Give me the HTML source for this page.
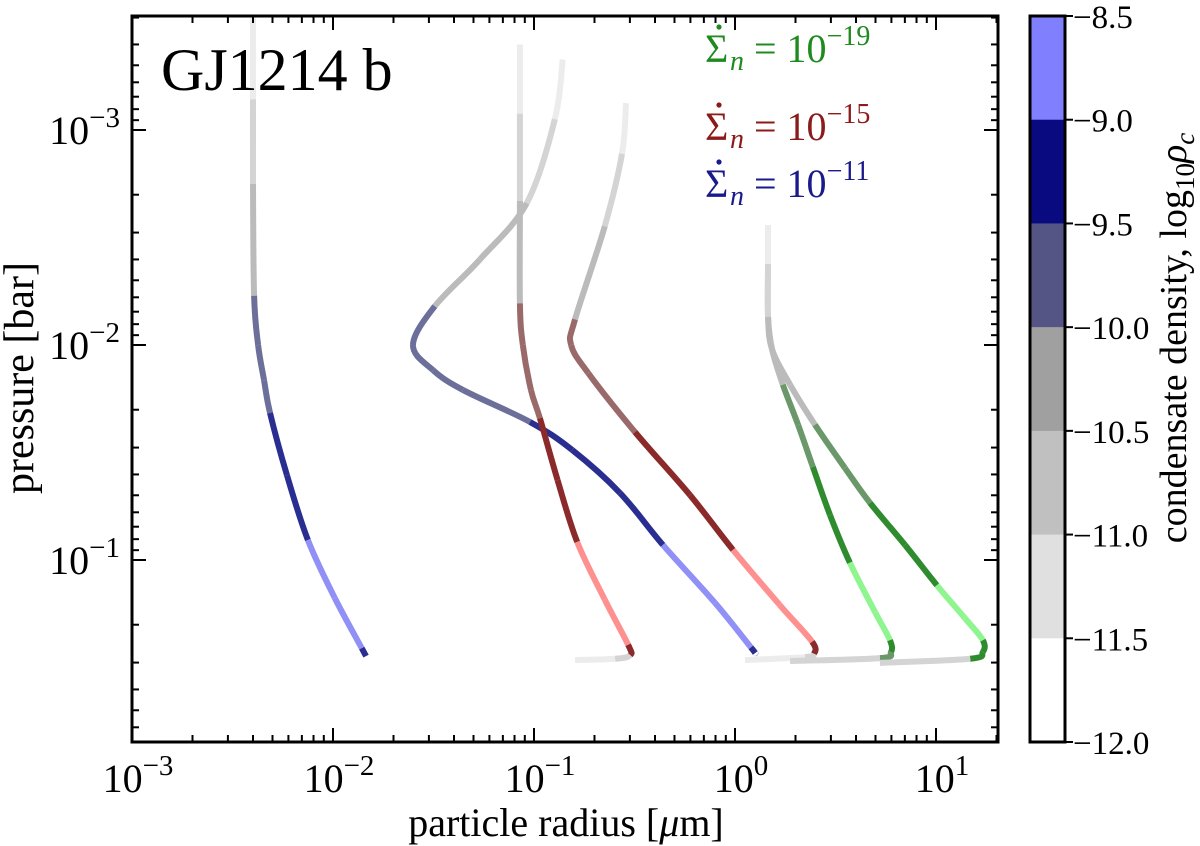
<!DOCTYPE html>
<html><head><meta charset="utf-8"><style>
body{margin:0;background:#fff}
svg{display:block;font-family:"Liberation Serif",serif}
</style></head><body>
<svg id="chart" width="1200" height="846" viewBox="0 0 1200 846"></svg>
<script>
// ---- data ----
const xTickExps=[-3,-2,-1,0,1];
const yTickExps=[-3,-2,-1];
const cbarTicks=["−8.5","−9.0","−9.5","−10.0","−10.5","−11.0","−11.5","−12.0"];
const cbarGray=["#ffffff","#e0e0e0","#c0c0c0","#a0a0a0"];
const cbarBlue=["#555585","#0a0a80","#8080ff"];
const lineGray=["#f6f6f6","#ececec","#d4d4d4","#bbbbbb"];
const speciesColors={blue:["#6b6f99","#2a2e90","#9090f6"],red:["#9a6a6a","#8a2a2a","#ff9090"],green:["#6a986a","#2e8c2e","#8ff58f"]};
// curves: radius [um], pressure [bar], density bin (0..6) of the segment starting at each point
const b1R=[0.0040,0.0040,0.0040,0.00405,0.00424,0.00454,0.00486,0.0059,0.0075,0.0102,0.0139,0.0146];
const b1P=[3.0e-4,7.2e-4,1.78e-3,5.9e-3,0.01,0.0146,0.0207,0.0403,0.0807,0.150,0.257,0.280];
const b1B=[1,2,3,4,4,4,5,5,6,6,5,5];
const b2R=[0.139,0.127,0.092,0.0538,0.0321,0.0250,0.0315,0.0444,0.0955,0.155,0.268,0.438,0.794,1.20,1.26];
const b2P=[4.7e-4,8.9e-4,2.19e-3,4.0e-3,6.6e-3,0.01,0.0131,0.0162,0.0228,0.0308,0.0488,0.0851,0.158,0.255,0.271];
const b2B=[1,2,3,3,4,4,4,4,5,5,5,6,6,5,5];
const r1R=[0.0851,0.0851,0.0851,0.0851,0.088,0.0966,0.107,0.131,0.164,0.225,0.294,0.301,0.253,0.160];
const r1P=[4.0e-4,8.4e-4,2.14e-3,6.4e-3,0.01,0.0162,0.0219,0.0425,0.0824,0.153,0.248,0.277,0.288,0.292];
const r1B=[1,2,3,4,4,4,5,5,6,6,5,2,1,1];
const r2R=[0.287,0.274,0.225,0.160,0.153,0.186,0.318,0.597,0.977,1.67,2.42,2.47,2.23,1.12];
const r2P=[7.5e-4,1.29e-3,2.8e-3,7.6e-3,0.01,0.0135,0.0254,0.0499,0.0897,0.162,0.240,0.273,0.283,0.292];
const r2B=[1,2,3,4,4,4,5,5,6,6,5,2,1,0];
const g1R=[1.46,1.46,1.46,1.53,1.73,2.06,2.44,2.97,3.73,4.98,5.90,5.97,5.26,1.88];
const g1P=[2.77e-3,4.2e-3,7.4e-3,0.0105,0.0153,0.0235,0.0369,0.0618,0.103,0.175,0.236,0.268,0.286,0.295];
const g1B=[1,2,3,3,4,4,5,5,6,6,5,4,2,1];
const g2R=[1.46,1.46,1.46,1.53,1.88,2.50,3.52,4.70,7.01,10.1,13.9,17.1,17.1,14.8,5.26];
const g2P=[2.77e-3,4.2e-3,7.4e-3,0.0105,0.0153,0.0235,0.0373,0.0543,0.0851,0.131,0.186,0.236,0.268,0.288,0.301];
const g2B=[1,2,3,3,3,4,4,5,5,6,6,5,5,2,1];

// ---- scales ----
const X0=132,X1=998,Y0=16,Y1=742;
const LXMIN=-3, DEC_X=201, LPREF=-2, YREF=345, DEC_Y=215;
const xs=r=>X0+(Math.log10(r)-LXMIN)*DEC_X;
const ys=p=>YREF+(Math.log10(p)-LPREF)*DEC_Y;
const NS="http://www.w3.org/2000/svg";
const svg=document.getElementById('chart');
function mk(tag,attrs,parent){const e=document.createElementNS(NS,tag);for(const k in attrs)e.setAttribute(k,attrs[k]);(parent||svg).appendChild(e);return e;}

const defs=mk('defs',{});
const cp=mk('clipPath',{id:'pc'},defs);
mk('rect',{x:X0,y:Y0,width:X1-X0,height:Y1-Y0},cp);

const plot=mk('g',{'clip-path':'url(#pc)'});


function drawCurve(name,R,P,B,sp){
  const g=mk('g',{},plot);
  
  
  const pts=R.map((r,i)=>[xs(r),ys(P[i])]);
  const n=pts.length;
  for(let i=0;i<n-1;i++){
    const p0=pts[Math.max(0,i-1)],p1=pts[i],p2=pts[i+1],p3=pts[Math.min(n-1,i+2)];
    const c1=[p1[0]+(p2[0]-p0[0])/6,p1[1]+(p2[1]-p0[1])/6];
    const c2=[p2[0]-(p3[0]-p1[0])/6,p2[1]-(p3[1]-p1[1])/6];
    const b=B[i];
    const col=b<4?lineGray[b]:speciesColors[sp][b-4];
    const path=mk('path',{d:`M${p1[0]},${p1[1]}C${c1[0]},${c1[1]} ${c2[0]},${c2[1]} ${p2[0]},${p2[1]}`,fill:'none',stroke:col,'stroke-width':6,'stroke-linecap':'butt'},g);
    
    
  }
}
drawCurve('blue-curve-1',b1R,b1P,b1B,'blue');
drawCurve('blue-curve-2',b2R,b2P,b2B,'blue');
drawCurve('red-curve-1',r1R,r1P,r1B,'red');
drawCurve('red-curve-2',r2R,r2P,r2B,'red');
drawCurve('green-curve-1',g1R,g1P,g1B,'green');
drawCurve('green-curve-2',g2R,g2P,g2B,'green');

const frame=mk('rect',{x:X0,y:Y0,width:X1-X0,height:Y1-Y0,fill:'none',stroke:'#000','stroke-width':3});



const tg=mk('g',{stroke:'#000','stroke-width':2});


for(let d=-4;d<=2;d++){for(let m=1;m<=9;m++){
  const lx=d+Math.log10(m); const x=X0+(lx-LXMIN)*DEC_X;
  const L=m===1?14:7;
  if(x>X0+1&&x<X1-1){mk('line',{x1:x,y1:Y1,x2:x,y2:Y1-L},tg);mk('line',{x1:x,y1:Y0,x2:x,y2:Y0+L},tg);}
  const y=YREF+(lx-LPREF)*DEC_Y;
  if(y>Y0+1&&y<Y1-1){mk('line',{x1:X0,y1:y,x2:X0+L,y2:y},tg);mk('line',{x1:X1,y1:y,x2:X1-L,y2:y},tg);}
}}
xTickExps.forEach(e=>{
  const t=mk('text',{x:X0+(e-LXMIN)*DEC_X+6,y:792,'font-size':40,'text-anchor':'middle'});
  
  
  t.innerHTML=`10<tspan dy="-17" font-size="29">${e<0?'−'+(-e):e}</tspan>`;
});
yTickExps.forEach(e=>{
  const t=mk('text',{x:120,y:YREF+(e-LPREF)*DEC_Y+14,'font-size':40,'text-anchor':'end'});
  
  
  t.innerHTML=`10<tspan dy="-17" font-size="29">−${-e}</tspan>`;
});
const xt=mk('text',{x:566,y:836,'font-size':40,'text-anchor':'middle'});


xt.innerHTML='particle radius [<tspan font-style="italic">μ</tspan>m]';
const yt=mk('text',{x:0,y:0,'font-size':42,'text-anchor':'middle',transform:'translate(33,378) rotate(-90)'});


yt.textContent='pressure [bar]';
const tt=mk('text',{x:161,y:90,'font-size':60});


tt.textContent='GJ1214 b';
const legendExps=["−19","−15","−11"];
const legendCols=["#1f8a1f","#8b1a1a","#1a1a8b"];
const legendY=[62,140,197];
legendExps.forEach((e,i)=>{
  const g=mk('g',{fill:legendCols[i],'font-size':40});
  
  
  mk('text',{x:705,y:legendY[i]},g).textContent='Σ';
  mk('circle',{cx:719,cy:legendY[i]-35,r:2.6},g);
  const t=mk('text',{x:730,y:legendY[i]},g);
  t.innerHTML=`<tspan font-style="italic" font-size="28" dy="8">n</tspan><tspan dy="-8"> = 10</tspan><tspan dy="-17" font-size="28">${e}</tspan>`;
});

const CX=1030,CW=35,CB=mk('g',{});


const step=(Y1-Y0)/7;
const cbCols=[cbarBlue[2],cbarBlue[1],cbarBlue[0],cbarGray[3],cbarGray[2],cbarGray[1],cbarGray[0]];
cbCols.forEach((c,i)=>{mk('rect',{x:CX,y:Y0+i*step,width:CW,height:step+0.5,fill:c},CB);});
mk('rect',{x:CX,y:Y0,width:CW,height:Y1-Y0,fill:'none',stroke:'#000','stroke-width':3},CB);
cbarTicks.forEach((s,i)=>{
  const y=Y0+i*step;
  mk('line',{x1:CX+CW,y1:y,x2:CX+CW+8,y2:y,stroke:'#000','stroke-width':2},CB);
  const t=mk('text',{x:CX+CW+8,y:y+12,'font-size':33},CB);
  
  
  t.textContent=s;
});
const ct=mk('text',{x:0,y:0,'font-size':38,'text-anchor':'middle',transform:'translate(1186,338) rotate(-90)'});


ct.innerHTML='condensate density, log<tspan font-size="27" dy="8">10</tspan><tspan dy="-8" font-style="italic">ρ</tspan><tspan font-style="italic" font-size="27" dy="8">c</tspan>';
</script>
</body></html>
